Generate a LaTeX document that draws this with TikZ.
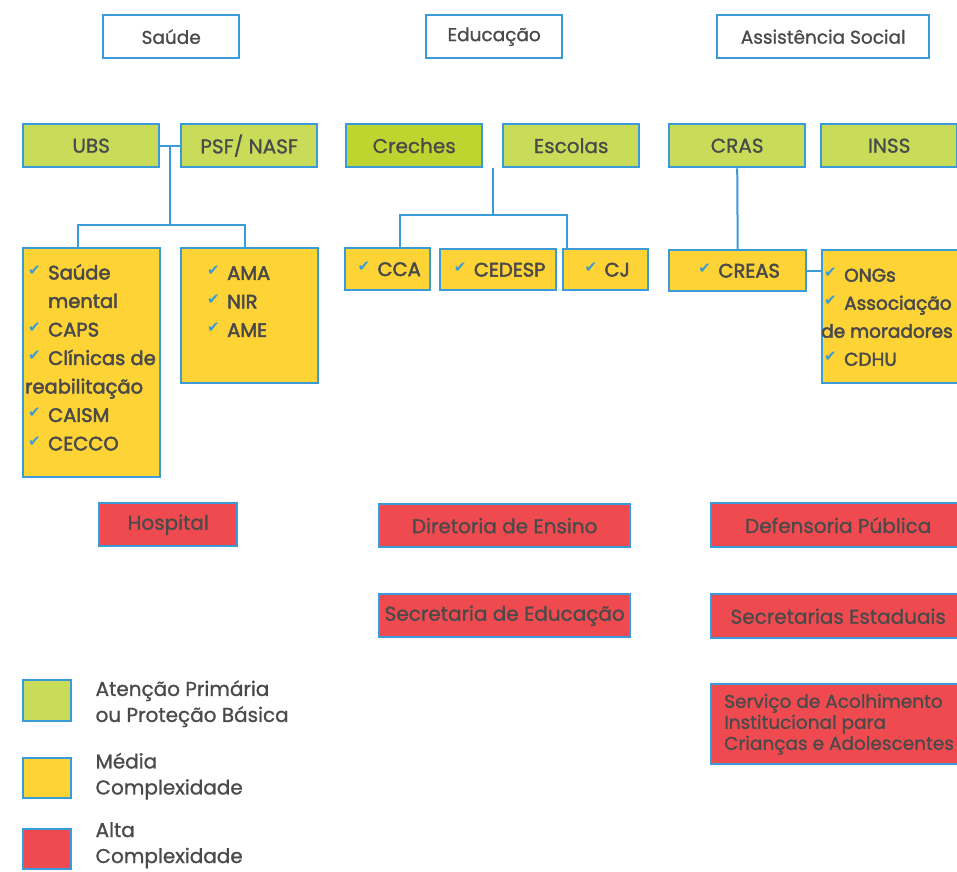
\documentclass[tikz,border=0pt]{standalone}
\usepackage{fontspec}
\setmainfont{Poppins}[FakeBold=1]
\newfontfamily\listfont{Poppins}[FakeBold=2.5]
\newfontfamily\symfont{DejaVu Sans}
\usetikzlibrary{calc}
\definecolor{edge}{HTML}{3A9BD8}
\definecolor{ink}{HTML}{4A4A4A}
\definecolor{prim}{HTML}{C9DC5A}
\definecolor{primd}{HTML}{BDD52E}
\definecolor{media}{HTML}{FDD335}
\definecolor{alta}{HTML}{EE4A50}
\newcommand{\ck}{\makebox[23pt][l]{\hspace{3pt}\raisebox{0.4ex}{\color{edge}\symfont\fontsize{15}{15}\selectfont ✔}}}
\tikzset{
  box/.style={draw=edge, line width=2.4pt, rectangle, anchor=north west, inner sep=0pt, text=ink, align=center, font=\fontsize{20}{22}\selectfont},
  headbox/.style={box, fill=white, minimum width=136pt, minimum height=43pt, font=\fontsize{18.5}{20}\selectfont},
  primbox/.style={box, fill=prim, minimum width=136pt, minimum height=43pt},
  midbox/.style={box, fill=media, font=\listfont\fontsize{19.5}{21}\selectfont},
  altbox/.style={box, fill=alta},
  list/.style={anchor=north west, inner sep=0pt, align=left, text=ink, font=\listfont\fontsize{19.5}{28.5}\selectfont},
  legtxt/.style={anchor=west, inner sep=0pt, align=left, text=ink, font=\fontsize{20}{26}\selectfont},
  link/.style={draw=edge, line width=2pt},
}
\begin{document}
\begin{tikzpicture}[x=1pt,y=-1pt]
  \useasboundingbox (0,0) rectangle (957,871);
  \clip (0,0) rectangle (957,871);
  \fill[white] (0,0) rectangle (957,871);
  % areas
  \node[headbox] (saude) at (102,14) {Saúde};
  \node[headbox] (educ) at (425,14) {Educação};
  \node[headbox, minimum width=212pt] (assist) at (716,14) {Assistência Social};
  % atencao primaria
  \node[primbox] (ubs) at (22,123) {UBS};
  \node[primbox] (psf) at (180,123) {PSF/ NASF};
  \node[primbox, fill=primd] (creches) at (345,123) {Creches};
  \node[primbox] (escolas) at (502,123) {Escolas};
  \node[primbox] (cras) at (668,123) {CRAS};
  \node[primbox] (inss) at (820,123) {INSS};
  % media complexidade
  \node[midbox, minimum width=137pt, minimum height=229pt] (mental) at (22,247) {};
  \node[list] (mentaltx) at ($(mental.north west)+(3,17)$)
    {\ck Saúde\\\hspace{23pt}mental\\\ck CAPS\\\ck Clínicas de\\reabilitação\\\ck CAISM\\\ck CECCO};
  \node[midbox, minimum width=137pt, minimum height=135pt] (ama) at (180,247) {};
  \node[list] (amatx) at ($(ama.north west)+(24,19)$) {\ck AMA\\\ck NIR\\\ck AME};
  \node[midbox, minimum width=85pt, minimum height=42pt] (cca) at (344,247) {\ck CCA};
  \node[midbox, minimum width=116pt, minimum height=41pt] (cedesp) at (439,248) {\ck CEDESP};
  \node[midbox, minimum width=85pt, minimum height=41pt] (cj) at (562,248) {\ck CJ};
  \node[midbox, minimum width=137pt, minimum height=41pt] (creas) at (668,249) {\ck CREAS};
  \node[midbox, minimum width=140pt, minimum height=133pt] (ongs) at (821,249) {};
  \node[list, font=\listfont\fontsize{18.5}{28}\selectfont] (ongstx) at ($(ongs.north west)+(0,19)$)
    {\ck ONGs\\\ck Associação\\de moradores\\\ck CDHU};
  % ligacoes
  \coordinate (sj) at ($(ubs.east)!0.5!(psf.west)$);
  \coordinate (sbus) at ($(sj)+(0,79)$);
  \coordinate (sl) at ($(mental.north west)+(56,0)$);
  \coordinate (sr) at ($(ama.north west)+(65,0)$);
  \draw[link] (ubs.east) -- (psf.west);
  \draw[link] (sj) -- (sbus);
  \draw[link] (sl) |- (sbus) -| (sr);
  \coordinate (ej) at ($(creches.south east)!0.5!(escolas.south west)$);
  \coordinate (ebus) at ($(ej)+(0,47)$);
  \coordinate (el) at ($(cca.north west)+(56,0)$);
  \coordinate (er) at ($(cj.north west)+(5,0)$);
  \draw[link] (ej) -- (ebus);
  \draw[link] (el) |- (ebus) -| (er);
  \draw[link] (cras.south) -- (creas.north);
  \draw[link] (creas.east) -- (creas.east -| ongs.west);
  % alta complexidade
  \node[altbox, minimum width=138pt, minimum height=43pt] (hosp) at (98,502) {Hospital};
  \node[altbox, minimum width=251pt, minimum height=43pt] (dir) at (378,503) {Diretoria de Ensino};
  \node[altbox, minimum width=251pt, minimum height=43pt] (sec) at (378,593) {Secretaria de Educação};
  \node[altbox, minimum width=254pt, minimum height=44pt] (def) at (710,502) {Defensoria Pública};
  \node[altbox, minimum width=254pt, minimum height=44pt] (sest) at (710,593) {Secretarias Estaduais};
  \node[altbox, minimum width=254pt, minimum height=80pt] (acol) at (710,683) {};
  \node[anchor=west, inner sep=0pt, align=left, text=ink, font=\fontsize{18.5}{21}\selectfont] (acoltx)
    at ($(acol.west)+(14,0)$) {Serviço de Acolhimento\\Institucional para\\Crianças e Adolescentes};
  % legenda
  \node[primbox, minimum width=48pt, minimum height=41pt] (lg1) at (22,679) {};
  \node[midbox, minimum width=48pt, minimum height=40pt] (lg2) at (22,757) {};
  \node[altbox, minimum width=48pt, minimum height=40pt] (lg3) at (22,828) {};
  \node[legtxt] (lg1tx) at ($(lg1.east)+(23,3)$) {Atenção Primária\\ou Proteção Básica};
  \node[legtxt] (lg2tx) at ($(lg2.east)+(23,-2)$) {Média\\Complexidade};
  \node[legtxt] (lg3tx) at ($(lg3.east)+(23,-4)$) {Alta\\Complexidade};
\end{tikzpicture}
\end{document}
